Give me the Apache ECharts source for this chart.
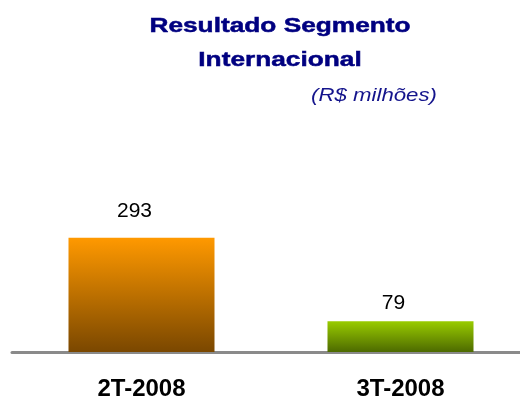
<!DOCTYPE html>
<html>
<head>
<meta charset="utf-8">
<script src="https://cdn.jsdelivr.net/npm/echarts@6/dist/echarts.min.js"></script>
<style>
  html, body { margin: 0; padding: 0; background: #ffffff; }
  #chart { width: 520px; height: 401px; }
</style>
</head>
<body>
<div id="chart"></div>
<script>
// Quarterly result of the international segment
var categories = ['2T-2008', '3T-2008'];
var values = [293, 79];
var titleLines = ['Resultado Segmento', 'Internacional'];
var unitLabel = '(R$ milhões)';

// Vertical gradients for each bar (top -> bottom)
var barGradients = [
  ['#ff9900', '#7a4700'],
  ['#99cc00', '#4d6a00']
];
// label distance above each bar
var labelGaps = [16, 7];

var chart = echarts.init(document.getElementById('chart'), null, { renderer: 'canvas' });

var seriesData = values.map(function (v, i) {
  return {
    value: v,
    itemStyle: {
      color: new echarts.graphic.LinearGradient(0, 0, 0, 1, [
        { offset: 0, color: barGradients[i][0] },
        { offset: 1, color: barGradients[i][1] }
      ])
    },
    label: { distance: labelGaps[i] }
  };
});

var font = '"Liberation Sans", Arial, Helvetica, sans-serif';

chart.setOption({
  animation: false,
  backgroundColor: '#ffffff',
  grid: { left: 12, width: 518, top: 40, bottom: 49, outerBoundsMode: 'none', containLabel: false },
  xAxis: {
    type: 'category',
    data: categories,
    offset: 2,
    axisLine: { show: true, lineStyle: { color: '#8a8a8a', width: 3 } },
    axisTick: { show: false },
    axisLabel: {
      margin: 23,
      color: '#000000',
      fontFamily: font,
      fontWeight: 'bold',
      fontSize: 24
    }
  },
  yAxis: {
    type: 'value',
    min: 0,
    max: 800,
    show: false,
    splitLine: { show: false }
  },
  graphic: [
    {
      type: 'text', x: 280, y: 26, scaleX: 1.25,
      style: {
        text: titleLines[0], fill: '#000080',
        stroke: '#000080', lineWidth: 0.5,
        font: 'bold 21px ' + font,
        textAlign: 'center', textVerticalAlign: 'middle'
      }
    },
    {
      type: 'text', x: 280, y: 60, scaleX: 1.25,
      style: {
        text: titleLines[1], fill: '#000080',
        stroke: '#000080', lineWidth: 0.5,
        font: 'bold 21px ' + font,
        textAlign: 'center', textVerticalAlign: 'middle'
      }
    },
    {
      type: 'text', x: 374, y: 96, scaleX: 1.2,
      style: {
        text: unitLabel, fill: '#14148c',
        font: 'italic 18.5px ' + font,
        textAlign: 'center', textVerticalAlign: 'middle'
      }
    }
  ],
  series: [{
    type: 'bar',
    data: seriesData,
    barWidth: 146,
    label: {
      show: true,
      position: 'top',
      offset: [-7, 0],
      color: '#000000',
      fontFamily: font,
      fontSize: 21
    }
  }]
});
</script>
</body>
</html>
